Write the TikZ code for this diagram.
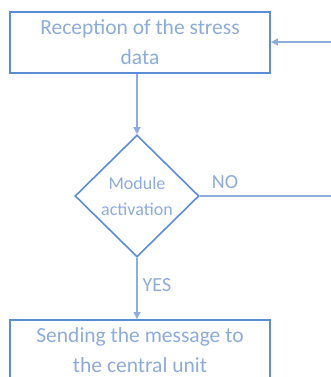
\documentclass[tikz,border=0pt]{standalone}
\usepackage{fontspec}
\setmainfont{Carlito}
\usepackage{xcolor}
\definecolor{cEdge}{HTML}{5B8DD6}
\definecolor{cLine}{HTML}{8FACDC}
\definecolor{cText}{HTML}{8DABDB}
\usetikzlibrary{positioning,arrows.meta,shapes.geometric}
\tikzset{
  node-box/.style={draw=cEdge,line width=1.8pt,minimum width=260pt,
    minimum height=61pt,align=center,text=cText,
    font=\fontsize{21.5}{30}\selectfont},
  node-decision/.style={draw=cEdge,line width=1.6pt,diamond,inner sep=0pt,
    minimum width=124pt,minimum height=122pt,align=center,text=cText,
    font=\fontsize{18}{26}\selectfont},
  arrow/.style={-{Triangle[length=7pt,width=7pt]},line width=1.2pt,draw=cLine},
  line/.style={line width=1.2pt,draw=cLine},
  label-text/.style={text=cText,font=\fontsize{20}{22}\selectfont},
}

\begin{document}
\begin{tikzpicture}[x=1pt,y=-1pt]
  \useasboundingbox (0,0) rectangle (331,377);
  \node[node-box] (recv) at (140,42.5) {Reception of the stress\\data};
  \node[node-decision] (act) at (137,196) {Module\\activation};
  \node[node-box] (send) at (140,350.5) {Sending the message to\\the central unit};
  \coordinate (loop-in) at (331,42);
  \coordinate (loop-out) at (331,196);
  \draw[arrow] (recv.south -| act.north) -- (act.north);
  \draw[arrow] (act.south) -- (send.north -| act.south);
  \draw[line] (act.east) -- (loop-out);
  \draw[arrow] (loop-in) -- (recv.east |- loop-in);
  \node[label-text] (no) at (225,182) {NO};
  \node[label-text] (yes) at (157,285) {YES};
\end{tikzpicture}
\end{document}
